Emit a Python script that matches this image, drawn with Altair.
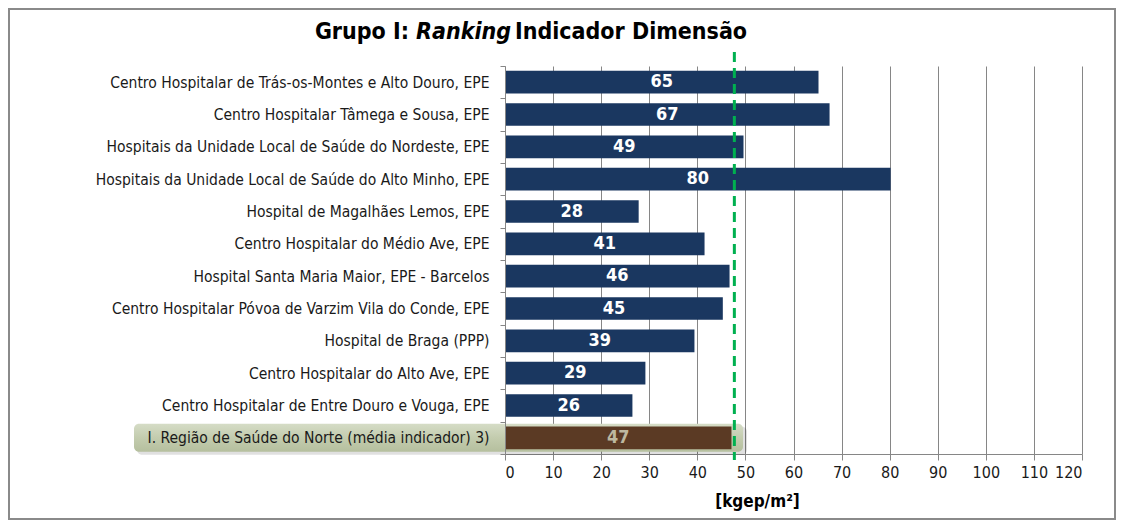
import altair as alt
import pandas as pd

categories = [
    "Centro Hospitalar de Trás-os-Montes e Alto Douro, EPE",
    "Centro Hospitalar Tâmega e Sousa, EPE",
    "Hospitais da Unidade Local de Saúde do Nordeste, EPE",
    "Hospitais da Unidade Local de Saúde do Alto Minho, EPE",
    "Hospital de Magalhães Lemos, EPE",
    "Centro Hospitalar do Médio Ave, EPE",
    "Hospital Santa Maria Maior, EPE - Barcelos",
    "Centro Hospitalar Póvoa de Varzim Vila do Conde, EPE",
    "Hospital de Braga (PPP)",
    "Centro Hospitalar do Alto Ave, EPE",
    "Centro Hospitalar de Entre Douro e Vouga, EPE",
    "I. Região de Saúde do Norte (média indicador) 3)",
]
values = [65.2, 67.5, 49.6, 80.2, 27.8, 41.5, 46.7, 45.3, 39.4, 29.2, 26.5, 47.1]
labels = ["65", "67", "49", "80", "28", "41", "46", "45", "39", "29", "26", "47"]
kinds = ["hospital"] * 11 + ["regiao"]
reference_line = [47.7]
x_ticks = list(range(0, 121, 10))

FONT = "DejaVu Sans Condensed, Liberation Sans Narrow, sans-serif"
W, H = 577, 388
PAD = {"left": 497, "top": 58, "right": 34, "bottom": 66}

df = pd.DataFrame({"cat": categories, "value": values, "label": labels, "kind": kinds})
df["mid"] = df["value"] / 2
hl = df[df["kind"] == "regiao"]

x_axis = alt.Axis(
    values=x_ticks, title="[kgep/m²]", grid=True, gridColor="#868686", gridWidth=1,
    domainColor="#868686", tickColor="#868686", tickSize=6, labelFont=FONT,
    labelFontSize=16, labelColor="#1a1a1a", labelPadding=4, labelOverlap=False,
    titleFont=FONT, titleFontSize=17, titleFontWeight="bold", titleColor="#000000",
    titleX=252, titleY=39, titleBaseline="top", titleAnchor="start", titleAlign="center",
    zindex=0,
)
x_scale = alt.Scale(domain=[0, 120], nice=False, zero=True)

y_enc = alt.Y(
    "cat:N", sort=categories,
    scale=alt.Scale(paddingInner=0, paddingOuter=0),
    axis=alt.Axis(
        title=None, tickBand="extent", labelFont=FONT, labelFontSize=15.5,
        labelColor="#1a1a1a", labelPadding=11, domainColor="#868686",
        tickColor="#868686", tickSize=5, zindex=1, labelLimit=600,
    ),
)

border = alt.Chart(pd.DataFrame({"a": [0]})).mark_rect(
    fill=None, stroke="#8a8a8a", strokeWidth=2
).encode(
    x=alt.value(-PAD["left"] + 1), x2=alt.value(W + PAD["right"] - 1),
    y=alt.value(-PAD["top"] + 1), y2=alt.value(H + PAD["bottom"] - 1),
)

shadow = alt.Chart(hl).mark_bar(
    height=28, cornerRadius=5, color="#000000", opacity=0.12, yOffset=3
).encode(y=y_enc, x=alt.value(-368), x2=alt.value(242))

box = alt.Chart(hl).mark_bar(
    height=28, cornerRadius=5,
    color=alt.Gradient(
        gradient="linear", x1=0, x2=0, y1=0, y2=1,
        stops=[alt.GradientStop(color="#d5dcc6", offset=0),
               alt.GradientStop(color="#c3ccae", offset=0.5),
               alt.GradientStop(color="#b5bf9e", offset=1)],
    ),
).encode(y=y_enc, x=alt.value(-371), x2=alt.value(238))

bars = alt.Chart(df).mark_bar(height={"band": 0.7}).encode(
    y=y_enc,
    x=alt.X("value:Q", scale=x_scale, axis=x_axis),
    color=alt.Color("kind:N", scale=alt.Scale(domain=["hospital", "regiao"],
                                               range=["#1a3760", "#5b3a24"]), legend=None),
)

text = alt.Chart(df).mark_text(font=FONT, fontSize=18, fontWeight="bold").encode(
    y=y_enc,
    x=alt.X("mid:Q", scale=x_scale, axis=x_axis),
    text="label:N",
    color=alt.Color("kind:N", scale=alt.Scale(domain=["hospital", "regiao"],
                                               range=["#ffffff", "#bdb8a0"]), legend=None),
)

rule = alt.Chart(pd.DataFrame({"v": reference_line})).mark_rule(
    color="#00b050", strokeWidth=3, strokeDash=[10, 6]
).encode(x=alt.X("v:Q", scale=x_scale, axis=x_axis), y=alt.value(-14), y2=alt.value(394))

title_parts = [("Grupo I:", "normal", "right", -96), ("Ranking", "italic", "left", -89),
               ("Indicador Dimensão", "normal", "left", 10)]
titles = []
for txt, style, align, xpos in title_parts:
    titles.append(
        alt.Chart(pd.DataFrame({"t": [txt]})).mark_text(
            font=FONT, fontSize=23, fontWeight="bold", fontStyle=style, align=align,
            baseline="alphabetic", color="#000000",
        ).encode(text="t:N", x=alt.value(xpos), y=alt.value(-27))
    )

chart = alt.layer(border, shadow, box, bars, text, rule, *titles).resolve_scale(
    color="independent"
).properties(
    width=W, height=H, padding=PAD, autosize=alt.AutoSizeParams(type="none"),
    background="#ffffff",
).configure_view(stroke=None)

chart.save("out.html", embed_options={"renderer": "svg", "actions": False})
